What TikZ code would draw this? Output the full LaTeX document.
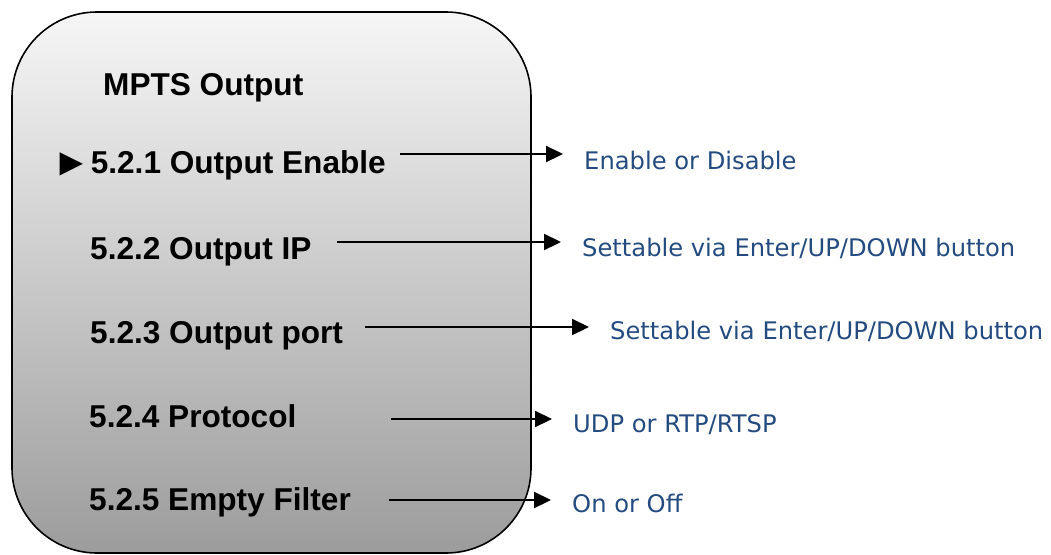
\documentclass[tikz,border=0pt]{standalone}
\usepackage{fontspec}
\setmainfont{Liberation Sans}
\newfontfamily\valuefont{DejaVu Sans}
\usetikzlibrary{arrows.meta}
\definecolor{valueblue}{RGB}{35,75,128}
\definecolor{paneltop}{RGB}{246,246,246}
\definecolor{panelbottom}{RGB}{156,156,156}
\begin{document}
\begin{tikzpicture}[x=1pt,y=-1pt,
  panel/.style={draw=black,line width=1.6pt,rounded corners=85pt,
    top color=paneltop,bottom color=panelbottom,
    minimum width=519pt,minimum height=541pt,inner sep=0pt},
  menuitem/.style={anchor=base west,inner sep=0pt,
    font=\fontsize{31.6}{36}\selectfont\bfseries},
  valuetext/.style={anchor=base west,inner sep=0pt,text=valueblue,
    font=\valuefont\fontsize{24.2}{28}\selectfont},
  conn/.style={line width=2.2pt,-{Triangle[length=17pt,width=16pt]},shorten >=21pt}]
\useasboundingbox (0,0) rectangle (1051,554);

% menu panel
\node[panel] (box) at (271.5,282.5) {};

% menu entries
\node[menuitem] (title) at (103,95) {MPTS Output};
\node[menuitem] (i1) at (52,173)
  {\raisebox{-2.5pt}{\fontsize{39}{40}\selectfont ►}5.2.1 Output Enable};
\node[menuitem] (i2) at (90,259) {5.2.2 Output IP};
\node[menuitem] (i3) at (90,343) {5.2.3 Output port};
\node[menuitem] (i4) at (89,427) {5.2.4 Protocol};
\node[menuitem] (i5) at (89,510) {5.2.5 Empty Filter};

% possible values
\node[valuetext] (v1) at (584,169) {Enable or Disable};
\node[valuetext] (v2) at (582,256) {Settable via Enter/UP/DOWN button};
\node[valuetext] (v3) at (610,339) {Settable via Enter/UP/DOWN button};
\node[valuetext] (v4) at (573,432) {UDP or RTP/RTSP};
\node[valuetext] (v5) at (572,512) {On or Off};

% arrow starts
\coordinate (s1) at (400,154);
\coordinate (s2) at (337,242);
\coordinate (s3) at (365,327);
\coordinate (s4) at (391,419);
\coordinate (s5) at (389,500);

\draw[conn] (s1) -- (s1 -| v1.west);
\draw[conn] (s2) -- (s2 -| v2.west);
\draw[conn] (s3) -- (s3 -| v3.west);
\draw[conn] (s4) -- (s4 -| v4.west);
\draw[conn] (s5) -- (s5 -| v5.west);
\end{tikzpicture}
\end{document}
